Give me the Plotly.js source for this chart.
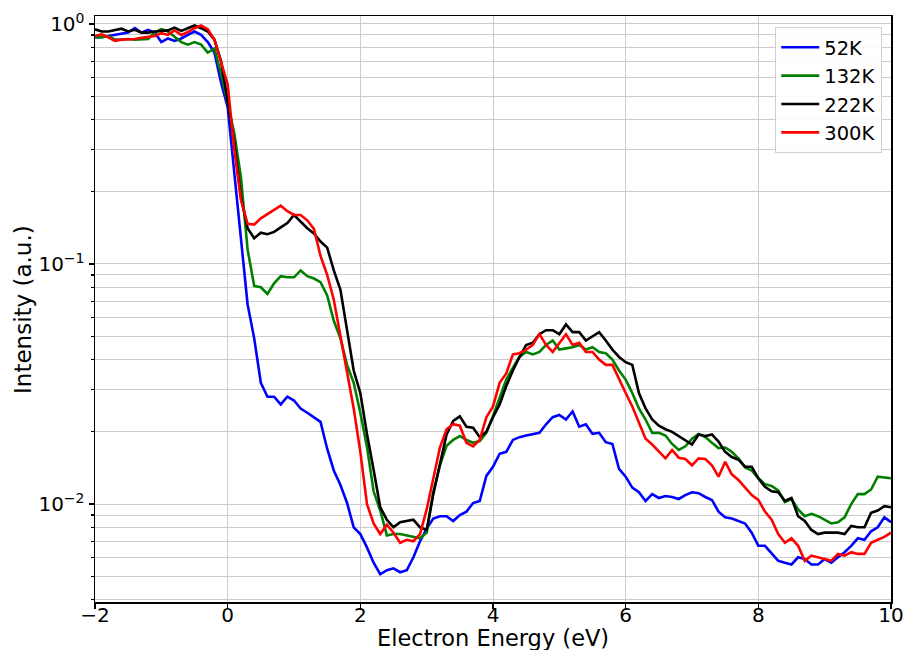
<!DOCTYPE html>
<html>
<head>
<meta charset="utf-8">
<script src="https://cdn.plot.ly/plotly-3.0.1.min.js"></script>
<style>
  html, body { margin: 0; padding: 0; background: #ffffff; overflow: hidden; }
  #chart { width: 907px; height: 650px; }
</style>
</head>
<body>
<div id="chart"></div>
<script>
// Electron energy grid (eV)
const energy = [
  -2.0,-1.9,-1.8,-1.7,-1.6,-1.5,-1.4,-1.3,-1.2,-1.1,
  -1.0,-0.9,-0.8,-0.7,-0.6,-0.5,-0.4,-0.3,-0.2,-0.1,
  0.0,0.1,0.2,0.3,0.4,0.5,0.6,0.7,0.8,0.9,
  1.0,1.1,1.2,1.3,1.4,1.5,1.6,1.7,1.8,1.9,
  2.0,2.1,2.2,2.3,2.4,2.5,2.6,2.7,2.8,2.9,
  3.0,3.1,3.2,3.3,3.4,3.5,3.6,3.7,3.8,3.9,
  4.0,4.1,4.2,4.3,4.4,4.5,4.6,4.7,4.8,4.9,
  5.0,5.1,5.2,5.3,5.4,5.5,5.6,5.7,5.8,5.9,
  6.0,6.1,6.2,6.3,6.4,6.5,6.6,6.7,6.8,6.9,
  7.0,7.1,7.2,7.3,7.4,7.5,7.6,7.7,7.8,7.9,
  8.0,8.1,8.2,8.3,8.4,8.5,8.6,8.7,8.8,8.9,
  9.0,9.1,9.2,9.3,9.4,9.5,9.6,9.7,9.8,9.9,
  10.0
];

const i52K = [
  0.88,0.88,0.89,0.90,0.91,0.92,0.96,0.92,0.945,0.92,
  0.84,0.87,0.85,0.87,0.90,0.93,0.90,0.84,0.76,0.57,
  0.45,0.24,0.13,0.068,0.049,0.032,0.028,0.028,0.026,0.028,
  0.027,0.025,0.024,0.023,0.022,0.017,0.0138,0.012,0.0101,0.0080,
  0.0075,0.0066,0.0057,0.0051,0.0053,0.0054,0.0052,0.0053,0.0060,0.0070,
  0.0079,0.0087,0.0089,0.0089,0.0085,0.0090,0.0093,0.0101,0.0103,0.0131,
  0.0143,0.0162,0.0165,0.0185,0.0190,0.0193,0.0195,0.0198,0.0215,0.0230,
  0.0235,0.0225,0.0243,0.0210,0.0215,0.0196,0.0198,0.0181,0.0178,0.0140,
  0.0130,0.0117,0.0112,0.0103,0.0110,0.0106,0.0108,0.0107,0.0105,0.0109,
  0.0112,0.0111,0.0107,0.0104,0.0093,0.0088,0.0087,0.0085,0.0083,0.0076,
  0.0067,0.0067,0.0062,0.0058,0.0057,0.0056,0.0060,0.0059,0.0056,0.0056,
  0.0059,0.0057,0.0060,0.0063,0.0067,0.0072,0.0071,0.0077,0.0080,0.0088,
  0.0084
];

const i132K = [
  0.88,0.88,0.89,0.86,0.86,0.865,0.86,0.86,0.865,0.92,
  0.95,0.93,0.88,0.84,0.82,0.84,0.82,0.76,0.79,0.62,
  0.47,0.35,0.23,0.115,0.081,0.080,0.075,0.083,0.089,0.088,
  0.088,0.094,0.089,0.087,0.084,0.074,0.058,0.049,0.038,0.032,
  0.024,0.0173,0.0113,0.0094,0.0074,0.0075,0.0075,0.0074,0.0073,0.0072,
  0.0076,0.0112,0.0145,0.0175,0.0185,0.0192,0.0185,0.0180,0.0183,0.0198,
  0.0233,0.028,0.033,0.037,0.041,0.043,0.042,0.043,0.046,0.048,
  0.044,0.0445,0.045,0.046,0.044,0.045,0.043,0.0425,0.040,0.036,
  0.033,0.029,0.025,0.0225,0.0198,0.0198,0.0193,0.0178,0.0168,0.0174,
  0.0187,0.0196,0.0190,0.0180,0.0171,0.0172,0.0165,0.0155,0.0142,0.0138,
  0.0128,0.0121,0.0119,0.0114,0.0102,0.0105,0.0095,0.0089,0.0091,0.0089,
  0.0086,0.0083,0.0084,0.0088,0.0100,0.0110,0.0110,0.0115,0.0130,0.0129,
  0.0128
];

const i222K = [
  0.95,0.93,0.93,0.94,0.955,0.93,0.945,0.92,0.92,0.93,
  0.935,0.94,0.965,0.935,0.96,0.985,0.96,0.93,0.86,0.70,
  0.48,0.32,0.19,0.141,0.128,0.135,0.133,0.136,0.142,0.148,
  0.160,0.150,0.141,0.134,0.124,0.117,0.094,0.078,0.053,0.036,
  0.029,0.0196,0.0139,0.0097,0.0086,0.0080,0.0084,0.0085,0.0086,0.0080,
  0.0078,0.0110,0.0149,0.0195,0.0222,0.0232,0.0210,0.0208,0.0190,0.0200,
  0.023,0.026,0.031,0.036,0.041,0.046,0.047,0.051,0.053,0.053,
  0.051,0.056,0.052,0.052,0.048,0.050,0.052,0.048,0.044,0.041,
  0.039,0.038,0.029,0.025,0.0225,0.0212,0.0205,0.0200,0.0192,0.0185,
  0.0177,0.0195,0.0192,0.0195,0.0182,0.0165,0.0157,0.0153,0.0143,0.0143,
  0.0128,0.0118,0.0113,0.0112,0.0103,0.0106,0.0089,0.0085,0.0078,0.0075,
  0.0076,0.0076,0.0076,0.0075,0.0081,0.0080,0.0080,0.0092,0.0094,0.0098,
  0.0097
];

const i300K = [
  0.89,0.905,0.88,0.85,0.86,0.86,0.865,0.875,0.885,0.89,
  0.915,0.90,0.94,0.90,0.925,0.96,0.985,0.95,0.86,0.70,
  0.56,0.30,0.185,0.147,0.146,0.155,0.162,0.168,0.175,0.166,
  0.160,0.160,0.152,0.140,0.108,0.090,0.071,0.050,0.036,0.025,
  0.0165,0.0100,0.0083,0.0075,0.0082,0.0076,0.0069,0.0071,0.0070,0.0075,
  0.0095,0.0128,0.0172,0.0205,0.0215,0.0212,0.0180,0.0174,0.0185,0.0230,
  0.0255,0.032,0.035,0.042,0.0425,0.044,0.046,0.051,0.046,0.043,
  0.047,0.051,0.046,0.047,0.043,0.043,0.040,0.038,0.038,0.033,
  0.029,0.0255,0.022,0.0187,0.0177,0.0165,0.0155,0.0168,0.0156,0.0154,
  0.0145,0.0155,0.0154,0.0145,0.0130,0.0150,0.0133,0.0126,0.0117,0.0109,
  0.0104,0.0093,0.0086,0.0075,0.0069,0.0072,0.0067,0.0058,0.0061,0.0060,
  0.0059,0.0058,0.0062,0.0061,0.0063,0.0062,0.0062,0.0069,0.0071,0.0073,
  0.0076
];

const seriesNames = ['52K', '132K', '222K', '300K'];
const seriesColors = ['#0000ff', '#008000', '#000000', '#ff0000'];
const seriesData = [i52K, i132K, i222K, i300K];

const xTickVals = [-2, 0, 2, 4, 6, 8, 10];
const xTickText = ['\u22122', '0', '2', '4', '6', '8', '10'];
const yTickVals = [1, 0.1, 0.01];
const yTickText = ['10<sup>0</sup>', '10<sup>\u22121</sup>', '10<sup>\u22122</sup>'];
const xTitle = 'Electron Energy (eV)';
const yTitle = 'Intensity (a.u.)';

const traces = seriesData.map((vals, i) => ({
  type: 'scatter',
  mode: 'lines',
  name: seriesNames[i],
  x: energy,
  y: vals,
  line: { color: seriesColors[i], width: 2.6 },
  hoverinfo: 'skip'
}));

const gridCol = '#cccccc';
const fontFam = 'DejaVu Sans, sans-serif';

const layout = {
  width: 907,
  height: 650,
  margin: { l: 95, r: 16, t: 16, b: 48 },
  paper_bgcolor: '#ffffff',
  plot_bgcolor: '#ffffff',
  font: { family: fontFam, size: 20, color: '#000000' },
  showlegend: true,
  legend: {
    x: 0.989, y: 0.981, xanchor: 'right', yanchor: 'top',
    bgcolor: 'rgba(255,255,255,0.9)',
    bordercolor: '#d0d0d0', borderwidth: 1,
    itemwidth: 38,
    font: { family: fontFam, size: 19.5, color: '#000000' }
  },
  xaxis: {
    range: [-2, 10],
    tickmode: 'array',
    tickvals: xTickVals,
    ticktext: xTickText,
    ticks: 'outside', ticklen: 5, tickwidth: 1.2, tickcolor: '#000',
    ticklabelstandoff: -11,
    showgrid: true, gridcolor: gridCol, gridwidth: 1,
    zeroline: false,
    showline: true, linecolor: '#000', linewidth: 1.5, mirror: true,
    tickfont: { family: fontFam, size: 20 }
  },
  yaxis: {
    type: 'log',
    range: [-2.408, 0.033],
    tickmode: 'array',
    tickvals: yTickVals,
    ticktext: yTickText,
    ticks: 'outside', ticklen: 5, tickwidth: 1.2, tickcolor: '#000',
    showgrid: true, gridcolor: gridCol, gridwidth: 1,
    minor: { dtick: 'D1', showgrid: true, gridcolor: gridCol, gridwidth: 1, ticks: 'outside', ticklen: 3, tickcolor: '#000' },
    zeroline: false,
    showline: true, linecolor: '#000', linewidth: 1.5, mirror: true,
    tickfont: { family: fontFam, size: 20 }
  },
  annotations: [
    {
      text: xTitle, xref: 'paper', yref: 'paper',
      x: 0.5, y: -0.0614, xanchor: 'center', yanchor: 'middle',
      showarrow: false, font: { family: fontFam, size: 22.5, color: '#000' }
    },
    {
      text: yTitle, xref: 'paper', yref: 'paper',
      x: -0.0905, y: 0.5, xanchor: 'center', yanchor: 'middle', textangle: -90,
      showarrow: false, font: { family: fontFam, size: 23, color: '#000' }
    }
  ]
};

Plotly.newPlot('chart', traces, layout, { staticPlot: true, displayModeBar: false });
</script>
</body>
</html>
